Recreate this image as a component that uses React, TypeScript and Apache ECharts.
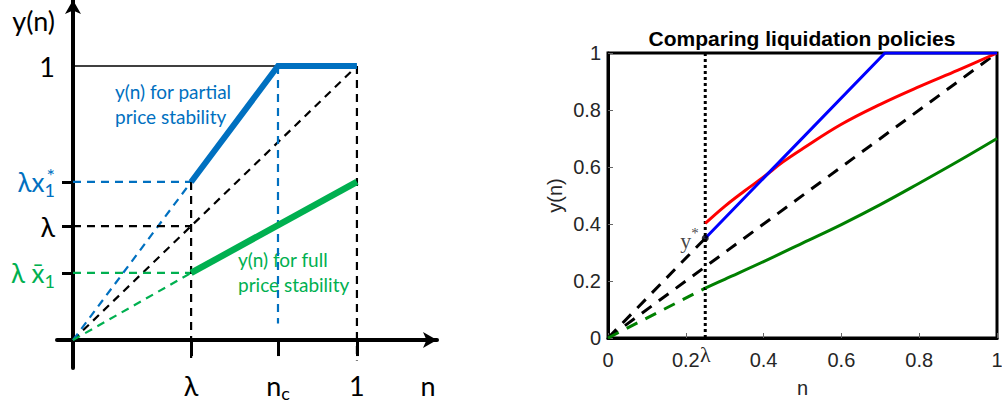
import React, { useEffect, useRef } from 'react';
import * as echarts from 'echarts';

// ---------- Left schematic panel (values in axis units) ----------
const L_LAMBDA = 0.416;
const L_NC = 0.722;
const L_LX_STAR = 0.577;
const L_LX_BAR = 0.245;
const L_GREEN_END = 0.577;
const L_NC_DASH_END = 0.06;
const L_BELOW = -0.075;
const L_YNAME_AT = 1.168;
const L_XNAME_AT = 1.25;

const leftBlueThick = [[L_LAMBDA, L_LX_STAR], [L_NC, 1], [1, 1]];
const leftGreenThick = [[L_LAMBDA, L_LX_BAR], [1, L_GREEN_END]];
const leftTopLine = [[0, 1], [L_NC, 1]];
const leftDiag = [[0, 0], [1, 1]];
const leftBlueRay = [[0, 0], [L_LAMBDA, L_LX_STAR]];
const leftGreenRay = [[0, 0], [L_LAMBDA, L_LX_BAR]];
const leftBlueLevel = [[0, L_LX_STAR], [L_LAMBDA, L_LX_STAR]];
const leftBlackLevel = [[0, L_LAMBDA], [L_LAMBDA, L_LAMBDA]];
const leftGreenLevel = [[0, L_LX_BAR], [L_LAMBDA, L_LX_BAR]];
const leftVertLambda = [[L_LAMBDA, L_LX_STAR], [L_LAMBDA, L_BELOW]];
const leftVertNc = [[L_NC, 1], [L_NC, L_NC_DASH_END]];
const leftVertOne = [[1, 1], [1, L_BELOW]];

const leftXTicks = [L_LAMBDA, L_NC, 1];
const leftYTicks = [L_LX_BAR, L_LAMBDA, L_LX_STAR];

// ---------- Right panel (MATLAB plot) ----------
const R_LAMBDA = 0.25;
const R_YSTAR = 0.35;
const redN = [0.25, 0.3, 0.35, 0.4, 0.45, 0.5, 0.6, 0.7, 0.8, 0.9, 1.0];
const redY = [0.402, 0.462, 0.515, 0.565, 0.618, 0.664, 0.75, 0.82, 0.882, 0.94, 1.0];
const greenN = [0.25, 0.3, 0.4, 0.5, 0.6, 0.7, 0.8, 0.9, 1.0];
const greenY = [0.175, 0.206, 0.268, 0.333, 0.398, 0.468, 0.543, 0.62, 0.7];
const blueN = [0.25, 0.712, 1.0];
const blueY = [0.35, 1.0, 1.0];
const rightDiag = [[0, 0], [1, 1]];
const rightYStarRay = [[0, 0], [R_LAMBDA, R_YSTAR]];
const rightGreenRay = [[0, 0], [R_LAMBDA, greenY[0]]];
const rightLambdaLine = [[R_LAMBDA, 0], [R_LAMBDA, 1]];

const BLUE_L = '#0070C0';
const GREEN_L = '#00B050';
const FL = 'Lato, "Noto Sans", sans-serif';
const FR = '"Liberation Sans", Arial, sans-serif';
const FS = '"Liberation Serif", "DejaVu Serif", serif';

const zip = (a: number[], b: number[]) => a.map((v, i) => [v, b[i]]);
const near = (a: number, b: number) => Math.abs(a - b) < 1e-6;

function lineSeries(data: number[][], color: string, width: number, type: any, xi: number, z = 2, smooth: any = false) {
  return {
    type: 'line',
    xAxisIndex: xi,
    yAxisIndex: xi,
    data,
    symbol: 'none',
    showSymbol: false,
    silent: true,
    smooth,
    z,
    lineStyle: { color, width, type, cap: 'butt', join: 'miter' },
  };
}

export default function App() {
  const ref = useRef<HTMLDivElement>(null);
  useEffect(() => {
    if (!ref.current) return;
    const chart = echarts.init(ref.current, undefined, { renderer: 'svg' });
    const richLeft: any = {
      k: { fontFamily: FL, fontSize: 27, color: '#000', lineHeight: 34 },
      ksub: { fontFamily: FL, fontSize: 18, color: '#000', lineHeight: 18, verticalAlign: 'bottom' },
      b: { fontFamily: FL, fontSize: 26, color: BLUE_L, lineHeight: 34 },
      bsub: { fontFamily: FL, fontSize: 18, color: BLUE_L, lineHeight: 18, verticalAlign: 'bottom' },
      bsup: { fontFamily: FL, fontSize: 20, color: BLUE_L, lineHeight: 20, verticalAlign: 'top', width: 0, align: 'right' },
      g: { fontFamily: FL, fontSize: 26, color: GREEN_L, lineHeight: 34 },
      gsub: { fontFamily: FL, fontSize: 18, color: GREEN_L, lineHeight: 18, verticalAlign: 'bottom' },
    };
    const option: any = {
      animation: false,
      backgroundColor: '#fff',
      title: {
        text: 'Comparing liquidation policies',
        left: 802,
        top: 28,
        textAlign: 'center',
        padding: 0,
        textStyle: { fontFamily: FR, fontWeight: 'bold', fontSize: 21, color: '#000' },
      },
      grid: [
        { left: 57, top: 0, width: 380, height: 368, show: false, containLabel: false, outerBoundsMode: 'none' },
        { left: 608, top: 53, width: 389, height: 285, show: true, borderWidth: 3, borderColor: '#000', backgroundColor: 'transparent', containLabel: false, outerBoundsMode: 'none' },
      ],
      xAxis: [
        {
          type: 'value', gridIndex: 0, min: -0.0563, max: 1.282,
          splitLine: { show: false },
          axisLine: { onZero: true, symbol: ['none', 'arrow'], symbolSize: [12, 14], lineStyle: { color: '#000', width: 4 } },
          axisTick: { customValues: leftXTicks, length: 16, lineStyle: { color: '#000', width: 3 } },
          axisLabel: {
            customValues: [...leftXTicks, L_XNAME_AT],
            margin: 0,
            rich: richLeft,
            formatter: (v: number) => {
              if (near(v, L_LAMBDA)) return '{k|λ}';
              if (near(v, L_NC)) return '{k|n}{ksub|c}';
              if (near(v, 1)) return '{k|1}';
              return '{k|n}';
            },
          },
        },
        {
          type: 'value', gridIndex: 1, min: 0, max: 1, interval: 0.2,
          splitLine: { show: false },
          axisLine: { lineStyle: { color: '#000', width: 3 } },
          axisTick: { inside: true, length: 5, lineStyle: { color: '#666', width: 1 } },
          axisLabel: { fontFamily: FR, fontSize: 20, color: '#262626', margin: 12 },
          name: 'n', nameLocation: 'middle', nameGap: 40,
          nameTextStyle: { fontFamily: FR, fontSize: 20, color: '#262626' },
        },
        {
          type: 'value', gridIndex: 1, min: 0, max: 1, position: 'bottom',
          splitLine: { show: false },
          axisLine: { show: false },
          axisTick: { show: false },
          axisLabel: {
            customValues: [R_LAMBDA],
            formatter: () => 'λ',
            fontFamily: FS, fontSize: 22, color: '#262626', margin: 5,
          },
        },
      ],
      yAxis: [
        {
          type: 'value', gridIndex: 0, min: -0.102, max: 1.241,
          splitLine: { show: false },
          axisLine: { onZero: true, symbol: ['none', 'arrow'], symbolSize: [12, 14], lineStyle: { color: '#000', width: 4 } },
          axisTick: { customValues: leftYTicks, length: 11, lineStyle: { color: '#000', width: 3 } },
          axisLabel: {
            customValues: [...leftYTicks, 1, L_YNAME_AT],
            margin: 2,
            rich: richLeft,
            formatter: (v: number) => {
              if (near(v, L_YNAME_AT)) return '{k|y(n)}';
              if (near(v, 1)) return '{k|1}';
              if (near(v, L_LAMBDA)) return '{k|λ}';
              if (near(v, L_LX_STAR)) return '{b|λx}{bsub|1}{bsup|*}';
              return '{g|λ x\u0304}{gsub|1}';
            },
          },
        },
        {
          type: 'value', gridIndex: 1, min: 0, max: 1, interval: 0.2,
          splitLine: { show: false },
          axisLine: { lineStyle: { color: '#000', width: 3 } },
          axisTick: { inside: true, length: 5, lineStyle: { color: '#666', width: 1 } },
          axisLabel: { fontFamily: FR, fontSize: 20, color: '#262626', margin: 7 },
          name: 'y(n)', nameLocation: 'middle', nameGap: 43,
          nameTextStyle: { fontFamily: FR, fontSize: 20, color: '#262626' },
        },
      ],
      graphic: [
        {
          type: 'text', left: 115, top: 79,
          style: { text: 'y(n) for partial\nprice stability', fill: BLUE_L, font: `19px ${FL}`, lineHeight: 25 },
        },
        {
          type: 'text', left: 238, top: 247,
          style: { text: 'y(n) for full\nprice stability', fill: GREEN_L, font: `19px ${FL}`, lineHeight: 25 },
        },
      ],
      series: [
        // left panel
        lineSeries(leftTopLine, '#000', 1.5, 'solid', 0),
        lineSeries(leftDiag, '#000', 2.2, [8, 6], 0),
        lineSeries(leftBlueRay, BLUE_L, 2.2, [8, 6], 0),
        lineSeries(leftGreenRay, GREEN_L, 2.2, [8, 6], 0),
        lineSeries(leftBlueLevel, BLUE_L, 2.2, [8, 6], 0),
        lineSeries(leftBlackLevel, '#000', 2.2, [8, 6], 0),
        lineSeries(leftGreenLevel, GREEN_L, 2.2, [8, 6], 0),
        lineSeries(leftVertLambda, '#000', 2.2, [8, 6], 0),
        lineSeries(leftVertNc, BLUE_L, 2.2, [8, 6], 0),
        lineSeries(leftVertOne, '#000', 2.2, [8, 6], 0),
        lineSeries(leftBlueThick, BLUE_L, 6, 'solid', 0, 5),
        lineSeries(leftGreenThick, GREEN_L, 6.5, 'solid', 0, 5),
        // right panel
        lineSeries(rightDiag, '#000', 3, [12, 9], 1),
        lineSeries(rightYStarRay, '#000', 3, [12, 9], 1),
        lineSeries(rightGreenRay, '#008000', 3, [12, 9], 1),
        lineSeries(rightLambdaLine, '#000', 3, [3, 3], 1),
        lineSeries(zip(greenN, greenY), '#008000', 3, 'solid', 1, 4, 0.4),
        lineSeries(zip(redN, redY), '#FF0000', 3, 'solid', 1, 4, 0.4),
        lineSeries(zip(blueN, blueY), '#0000FF', 3, 'solid', 1, 5),
        {
          type: 'scatter', xAxisIndex: 1, yAxisIndex: 1, z: 6,
          data: [[R_LAMBDA, R_YSTAR]], symbolSize: 7, itemStyle: { color: '#000' },
          label: {
            show: true, position: 'left', distance: 3,
            formatter: '{y|y}{s|*}',
            rich: {
              y: { fontFamily: FS, fontSize: 22, color: '#111', lineHeight: 26, verticalAlign: 'bottom' },
              s: { fontFamily: FS, fontSize: 15, color: '#111', lineHeight: 15, verticalAlign: 'top' },
            },
          },
        },
      ],
    };
    chart.setOption(option);
    return () => chart.dispose();
  }, []);
  return <div ref={ref} style={{ position: 'fixed', left: 0, top: 0, width: 1002, height: 402, background: '#fff' }} />;
}
